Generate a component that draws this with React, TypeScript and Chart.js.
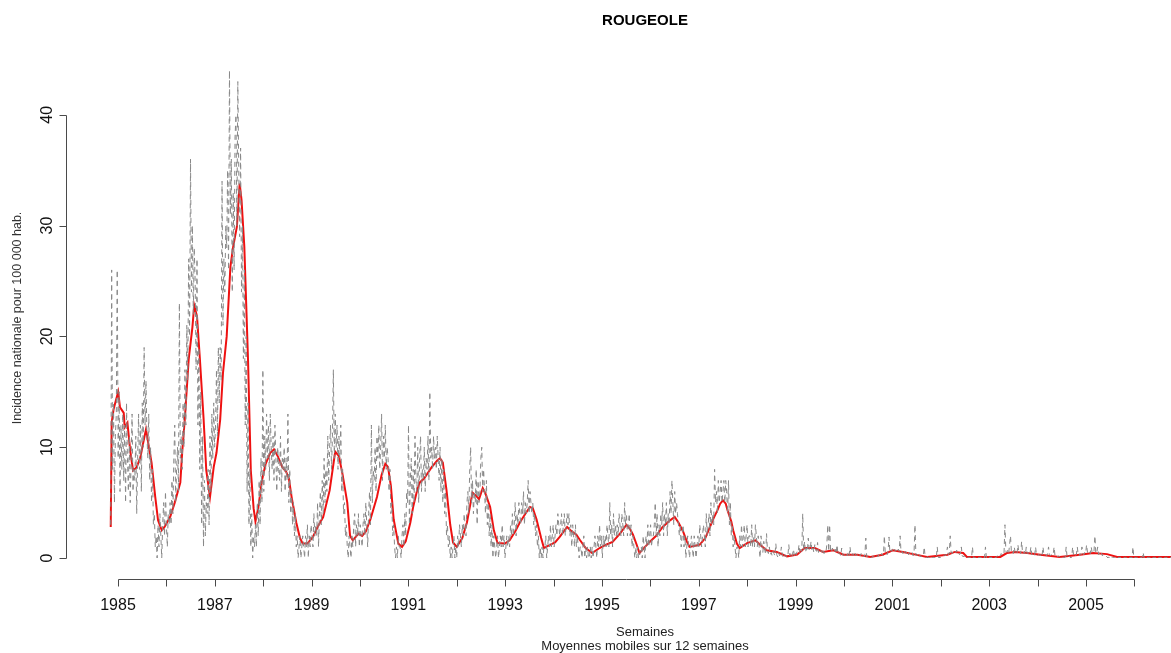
import React, { useEffect, useRef } from "react";
import { Chart, registerables } from "chart.js";

Chart.register(...registerables);

// ---------- text ----------
const TITLE = "ROUGEOLE";
const Y_TITLE = "Incidence nationale pour 100 000 hab.";
const X_TITLE = "Semaines";
const X_SUBTITLE = "Moyennes mobiles sur 12 semaines";

// ---------- time base ----------
const SERIES_START = 1984.85; // decimal year of first weekly observation
const WEEK = 7 / 365.25;

// ---------- axes ----------
const yearTicks = [1985, 1986, 1987, 1988, 1989, 1990, 1991, 1992, 1993, 1994, 1995, 1996, 1997, 1998, 1999, 2000, 2001, 2002, 2003, 2004, 2005, 2006];
const yearLabels = ["1985", "", "1987", "", "1989", "", "1991", "", "1993", "", "1995", "", "1997", "", "1999", "", "2001", "", "2003", "", "2005", ""];
const yTicks = [0, 10, 20, 30, 40];
const yTickLabels = ["0", "10", "20", "30", "40"];

// ---------- weekly incidence (grey dashed) ----------
const weeklyIncidence = [
  3, 26, 8, 14, 5, 11, 13, 26, 9, 15, 6, 12, 8,
  13, 7, 12, 5, 14, 9, 6, 11, 5, 9, 13, 6, 8,
  7, 11, 4, 9, 13, 8, 12, 6, 14, 10, 19, 12,
  16, 11, 9, 13, 7, 10, 5, 8, 3, 4, 1, 2, 0,
  3, 1, 4, 2, 0, 3, 5, 2, 6, 3, 1, 4, 3,
  5, 3, 7, 4, 9, 12, 5, 8, 10, 6, 23, 9, 11,
  8, 14, 10, 17, 12, 21, 16, 27, 20, 36, 24, 30, 22, 28,
  25, 17, 27, 12, 19, 8, 15, 3, 11, 1, 7, 2, 5,
  4, 8, 3, 11, 6, 13, 9, 14, 10, 12, 17, 11, 19,
  14, 19, 16, 34, 21, 27, 24, 30, 28, 35, 26, 44, 31,
  36, 24, 33, 26, 38, 40, 30, 43, 35, 29, 37, 24, 30,
  18, 26, 12, 20, 6, 14, 3, 8, 1, 4, 0, 2, 1,
  3, 1, 5, 2, 7, 3, 9, 5, 17, 6, 11, 8, 13,
  9, 12, 7, 13, 10, 8, 11, 7, 12, 9, 6, 10, 8,
  7, 11, 6, 9, 8, 10, 6, 9, 7, 13, 5, 8, 4,
  6, 3, 5, 2, 4, 1, 2, 0, 1, 2, 0, 1, 2,
  1, 0, 2, 1, 3, 0, 2, 1, 3, 2, 1, 4, 2,
  3, 2, 5, 1, 4, 6, 3, 7, 4, 9, 5, 8, 6,
  11, 7, 10, 12, 8, 11, 17, 9, 13, 10, 12, 8, 11,
  9, 12, 6, 8, 4, 5, 2, 3, 1, 0, 2, 1, 0,
  2, 1, 3, 4, 1, 3, 2, 4, 1, 3, 2, 1, 3,
  4, 2, 5, 3, 1, 4, 6, 3, 12, 5, 8, 7, 10,
  6, 11, 9, 12, 8, 10, 13, 7, 11, 9, 12, 8, 10,
  9, 6, 8, 4, 5, 2, 3, 1, 0, 1, 0, 2, 1,
  1, 0, 2, 3, 1, 4, 2, 6, 5, 12, 3, 7, 9,
  4, 8, 5, 11, 7, 6, 10, 5, 9, 11, 6, 8, 7,
  10, 6, 9, 8, 11, 7, 15, 9, 10, 8, 11, 9, 10,
  8, 11, 9, 7, 10, 6, 9, 5, 8, 4, 6, 2, 3,
  1, 2, 0, 1, 0, 1, 2, 0, 1, 0, 2, 1, 3,
  2, 1, 3, 2, 4, 3, 2, 5, 6, 4, 8, 10, 5,
  7, 4, 6, 5, 8, 3, 7, 5, 6, 9, 10, 6, 8,
  6, 4, 7, 3, 5, 2, 4, 1, 3, 0, 2, 1, 0,
  1, 2, 0, 1, 2, 1, 3, 1, 2, 0, 1, 2, 1,
  2, 1, 3, 2, 4, 2, 3, 5, 2, 4, 3, 5, 4,
  3, 5, 4, 6, 3, 5, 4, 5, 7, 4, 6, 5, 4,
  5, 3, 4, 2, 3, 1, 2, 0, 1, 0, 1, 0, 1,
  1, 2, 0, 1, 2, 1, 3, 1, 2, 3, 1, 2, 3,
  2, 4, 3, 2, 3, 4, 2, 3, 4, 2, 3, 4, 3,
  4, 2, 3, 1, 3, 2, 1, 3, 1, 2, 1, 0, 1,
  1, 0, 1, 2, 0, 1, 0, 1, 0, 0, 1, 0, 1,
  0, 1, 2, 1, 0, 2, 1, 3, 1, 2, 0, 2, 1,
  2, 1, 3, 2, 1, 5, 2, 3, 1, 4, 2, 3, 2,
  3, 2, 4, 3, 2, 4, 3, 2, 5, 3, 4, 2, 3,
  4, 2, 3, 1, 2, 1, 0, 1, 0, 1, 0, 0, 1,
  1, 0, 2, 1, 0, 2, 1, 3, 1, 2, 3, 1, 2,
  2, 3, 5, 2, 4, 1, 3, 2, 4, 3, 5, 2, 4,
  3, 5, 2, 4, 3, 6, 4, 7, 5, 3, 6, 4, 5,
  4, 3, 2, 3, 1, 2, 3, 1, 2, 0, 1, 2, 1,
  0, 1, 2, 1, 0, 2, 1, 0, 1, 2, 1, 3, 2,
  1, 2, 3, 2, 1, 4, 2, 3, 4, 2, 5, 3, 4,
  3, 8, 5, 6, 4, 7, 5, 6, 7, 5, 6, 7, 5,
  7, 6, 4, 7, 3, 5, 2, 3, 1, 2, 1, 0, 1,
  1, 0, 2, 1, 3, 1, 2, 3, 1, 2, 3, 1, 2,
  2, 1, 3, 1, 2, 1, 3, 2, 1, 2, 1, 0, 2,
  1.2, 0.5, 1.5, 0.8, 0.3, 2.2, 0.6, 0.4, 1, 0.3, 0.5, 0.2, 0.6,
  0.4, 0.2, 1.3, 0.3, 0.1, 0.5, 0.2, 0.3, 1.0, 0.2, 0.1, 0.4, 0.2,
  0.1, 0.3, 0.2, 1.2, 0.2, 0.4, 0.1, 0.3, 0.8, 0.2, 0.5, 0.3, 0.6,
  0.5, 1.2, 0.4, 0.8, 0.6, 4, 0.7, 1.5, 0.5, 0.9, 0.6, 1.8, 0.7,
  0.8, 1.5, 0.6, 0.9, 0.5, 1.2, 0.7, 0.6, 1.4, 0.5, 0.8, 0.6, 0.7,
  0.5, 0.8, 0.4, 0.6, 0.5, 1.2, 3, 0.6, 3, 0.7, 0.5, 0.9, 0.6,
  0.5, 0.8, 0.4, 1.2, 0.3, 0.5, 0.4, 0.2, 0.9, 0.3, 0.2, 0.4, 0.2,
  0.3, 0.2, 0.5, 0.2, 1.0, 0.2, 0.3, 0.4, 0.2, 0.5, 0.3, 0.2, 0.4,
  0.2, 0.3, 0.2, 0.4, 0.1, 0.2, 0.1, 0.3, 1.8, 0.1, 0.2, 0.1, 0.1,
  0.1, 0.0, 0.1, 0.2, 0.1, 0.0, 0.1, 0.2, 0.1, 0.3, 0.2, 0.1, 0.4,
  0.3, 0.2, 2, 0.4, 0.5, 0.3, 0.6, 1.9, 0.5, 0.7, 0.6, 0.9, 0.7,
  0.8, 0.6, 0.7, 0.5, 0.8, 0.6, 2, 0.5, 0.6, 0.4, 0.7, 0.5, 0.6,
  0.4, 0.6, 0.3, 0.5, 0.4, 0.3, 0.5, 0.2, 0.4, 3, 0.3, 0.2, 0.4,
  0.2, 0.3, 0.1, 0.2, 0.1, 0.2, 1.0, 0.1, 0.0, 0.1, 0.1, 0.0, 0.1,
  0.0, 0.1, 0.0, 0.1, 0.0, 0.1, 0.0, 1.0, 0.1, 0.0, 0.1, 0.0, 0.1,
  0.1, 0.2, 0.3, 0.2, 0.4, 1.0, 0.3, 0.4, 2, 0.5, 0.4, 0.6, 0.5,
  0.6, 0.5, 0.7, 0.4, 0.5, 0.3, 0.4, 1.0, 0.2, 0.1, 0.2, 0.1, 0.0,
  0.1, 0.0, 0.1, 0.0, 0.1, 0.0, 1.0, 0.0, 0.1, 0.0, 0.1, 0.0, 0.1,
  0.0, 0.1, 0.0, 0.1, 0.0, 0.1, 0.0, 1.0, 0.0, 0.1, 0.0, 0.1, 0.0,
  0.1, 0.0, 0.1, 0.0, 0.1, 0.0, 0.1, 0.2, 0.1, 0.3, 0.2, 0.4, 0.3,
  0.5, 0.4, 3, 0.6, 0.5, 0.7, 0.4, 1.2, 2, 0.5, 0.6, 0.4, 1.0,
  0.5, 0.6, 0.4, 1.2, 0.5, 0.6, 0.4, 1.5, 0.5, 0.4, 0.6, 0.3, 1.0,
  0.4, 0.5, 0.3, 0.4, 1.0, 0.3, 0.4, 0.3, 0.2, 1.0, 0.3, 0.2, 0.3,
  0.3, 0.2, 0.4, 0.2, 1.0, 0.3, 0.2, 0.3, 0.2, 0.4, 1.0, 0.3, 0.2,
  0.3, 0.2, 0.3, 1.0, 0.2, 0.1, 0.2, 0.1, 0.2, 0.1, 0.0, 0.1, 0.0,
  0.1, 0.0, 0.1, 1.0, 0.1, 0.0, 0.2, 0.1, 0.0, 0.1, 1.0, 0.2, 0.1,
  0.2, 0.3, 1.0, 0.3, 0.2, 0.4, 0.3, 1.0, 0.4, 0.3, 0.5, 0.4, 1.2,
  0.5, 0.4, 0.6, 0.4, 1.0, 0.5, 0.4, 0.6, 2, 0.4, 0.5, 1.0, 0.3,
  0.4, 0.3, 0.5, 0.2, 0.3, 0.2, 0.1, 0.2, 0.1, 0.0, 0.1, 0.0, 0.1,
  0.0, 0.1, 0.0, 0.1, 0.0, 0.1, 0.0, 0.1, 0.0, 0.1, 0.0, 0.1, 0.0,
  0.1, 0.0, 0.1, 0.0, 0.1, 0.0, 0.1, 0.0, 0.1, 0.0, 1.0, 0.0, 0.1,
  0.0, 0.1, 0.0, 0.1, 0.0, 0.1, 0.0, 0.1, 0.5, 0.0, 0.1, 0.0, 0.1,
  0.0, 0.1, 0.0, 0.1, 0.0, 0.1, 0.0, 0.1, 0.0, 0.1, 0.0, 0.1, 0.0,
  0.1, 0.0, 0.1, 0.0, 0.1, 0.0, 0.1, 0.0, 0.1, 0.0, 0.1, 0.0, 0.1,
  0.0, 0.1, 0.0, 0.1, 0.0, 0.1, 0.0,
];

// ---------- 12-week moving average (red), read at week positions ----------
const movingAvgWeeks = [
  0, 1, 3, 8, 10, 14, 15, 18, 21, 24,
  28, 32, 35, 38, 40, 44, 48, 51, 55, 58,
  64, 69, 75, 77, 80, 84, 88, 90, 93, 96,
  100, 103, 107, 111, 114, 118, 121, 125, 129, 132,
  136, 139, 141, 144, 148, 151, 154, 156, 159, 163,
  167, 172, 176, 180, 185, 189, 192, 195, 200, 204,
  207, 212, 218, 223, 229, 236, 242, 246, 250, 255,
  258, 261, 267, 271, 275, 280, 287, 292, 296, 299,
  302, 305, 310, 314, 318, 323, 326, 330, 333, 338,
  342, 346, 352, 355, 358, 362, 366, 369, 373, 379,
  384, 390, 394, 397, 401, 404, 409, 413, 417, 425,
  430, 436, 441, 447, 452, 455, 459, 464, 467, 474,
  479, 484, 492, 497, 502, 506, 512, 519, 527, 534,
  541, 549, 556, 560, 563, 567, 570, 576, 581, 588,
  595, 603, 608, 612, 617, 621, 624, 630, 635, 641,
  646, 650, 654, 657, 660, 663, 665, 669, 671, 675,
  678, 686, 695, 700, 707, 718, 729, 740, 748, 759,
  768, 779, 790, 805, 819, 832, 843, 854, 865, 880,
  902, 910, 919, 923, 959, 966, 975, 988, 1002, 1023,
  1045, 1059, 1074, 1085, 1150,
];
const movingAvgValues = [
  2.8, 12.2, 13.4, 15.0, 13.6, 13.1, 11.8, 12.2, 9.7, 7.9,
  8.2, 9.1, 10.4, 11.6, 10.6, 8.6, 5.5, 3.4, 2.5, 2.8,
  3.7, 5.0, 6.8, 9.5, 12.7, 17.9, 20.8, 22.8, 21.8, 18.1,
  12.7, 7.9, 5.5, 8.2, 9.5, 12.5, 16.7, 20.0, 26.3, 28.1,
  29.9, 33.8, 32.3, 28.1, 17.9, 7.9, 4.5, 3.3, 4.5, 7.0,
  8.5, 9.5, 9.8, 9.2, 8.2, 7.8, 7.2, 5.5, 3.2, 1.8,
  1.3, 1.3, 1.9, 2.8, 3.7, 6.1, 9.6, 9.2, 7.5, 5.0,
  2.0, 1.6, 2.2, 2.0, 2.4, 3.5, 5.5, 7.5, 8.5, 8.2,
  6.5, 3.5, 1.3, 1.0, 1.5, 3.2, 4.6, 6.0, 6.8, 7.2,
  7.7, 8.2, 8.8, 9.0, 8.6, 6.1, 3.0, 1.4, 1.0, 1.8,
  3.2, 5.9, 5.6, 5.3, 6.3, 5.8, 4.6, 2.5, 1.35, 1.3,
  1.6, 2.4, 3.2, 4.0, 4.6, 4.5, 3.5, 1.8, 0.9, 1.2,
  1.4, 1.9, 2.8, 2.4, 2.1, 1.6, 0.9, 0.45, 0.9, 1.2,
  1.45, 2.2, 3.0, 2.6, 2.1, 1.2, 0.45, 1.0, 1.45, 2.0,
  2.8, 3.4, 3.7, 3.2, 2.4, 1.5, 1.0, 1.1, 1.2, 1.8,
  2.8, 3.6, 4.3, 4.9, 5.2, 4.9, 4.3, 3.3, 2.5, 1.3,
  0.9, 1.35, 1.6, 1.2, 0.7, 0.55, 0.15, 0.3, 0.9, 0.9,
  0.55, 0.7, 0.3, 0.3, 0.1, 0.3, 0.7, 0.55, 0.35, 0.1,
  0.3, 0.55, 0.45, 0.1, 0.1, 0.45, 0.55, 0.45, 0.3, 0.1,
  0.3, 0.45, 0.35, 0.1, 0.1,
];

// ---------- layout constants ----------
const W = 1171;
const H = 653;
const TEXT_CENTER_X = 645;
const X_MIN = 1983.9256;
const X_MAX = 2006.756;
const Y_MIN = -1.895;
const Y_MAX = 45.76;

const FONT = '"Liberation Sans", Arial, Helvetica, sans-serif';

const rAxesPlugin = {
  id: "rStyleAxes",
  afterDraw(chart: any) {
    const { ctx, chartArea } = chart;
    const xs = chart.scales.x;
    const ys = chart.scales.y;
    ctx.save();

    // x axis
    const axisY = Math.round(chartArea.bottom) + 0.5;
    ctx.strokeStyle = "#4a4a4a";
    ctx.lineWidth = 1;
    ctx.beginPath();
    const xa = Math.round(xs.getPixelForValue(yearTicks[0])) + 0.5;
    const xb = Math.round(xs.getPixelForValue(yearTicks[yearTicks.length - 1])) + 0.5;
    ctx.moveTo(xa, axisY);
    ctx.lineTo(xb, axisY);
    yearTicks.forEach((t) => {
      const px = Math.round(xs.getPixelForValue(t)) + 0.5;
      ctx.moveTo(px, axisY);
      ctx.lineTo(px, axisY + 7);
    });
    ctx.stroke();

    ctx.fillStyle = "#111";
    ctx.font = `16px ${FONT}`;
    ctx.textAlign = "center";
    ctx.textBaseline = "middle";
    yearTicks.forEach((t, k) => {
      if (yearLabels[k]) ctx.fillText(yearLabels[k], xs.getPixelForValue(t), axisY + 26);
    });

    // y axis
    const axisX = Math.round(chartArea.left) + 0.5;
    ctx.beginPath();
    const ya = Math.round(ys.getPixelForValue(yTicks[0])) + 0.5;
    const yb = Math.round(ys.getPixelForValue(yTicks[yTicks.length - 1])) + 0.5;
    ctx.moveTo(axisX, ya);
    ctx.lineTo(axisX, yb);
    yTicks.forEach((t) => {
      const py = Math.round(ys.getPixelForValue(t)) + 0.5;
      ctx.moveTo(axisX, py);
      ctx.lineTo(axisX - 7, py);
    });
    ctx.stroke();

    yTicks.forEach((t, k) => {
      const py = ys.getPixelForValue(t);
      ctx.save();
      ctx.translate(axisX - 19, py);
      ctx.rotate(-Math.PI / 2);
      ctx.fillText(yTickLabels[k], 0, 0);
      ctx.restore();
    });

    // titles
    ctx.fillStyle = "#000";
    ctx.font = `bold 15px ${FONT}`;
    ctx.fillText(TITLE, TEXT_CENTER_X, 21);

    ctx.fillStyle = "#333";
    ctx.font = `12.5px ${FONT}`;
    ctx.save();
    ctx.translate(18, 318);
    ctx.rotate(-Math.PI / 2);
    ctx.fillText(Y_TITLE, 0, 0);
    ctx.restore();

    ctx.fillStyle = "#222";
    ctx.font = `13px ${FONT}`;
    ctx.fillText(X_TITLE, TEXT_CENTER_X, 632);
    ctx.fillText(X_SUBTITLE, TEXT_CENTER_X, 646);

    ctx.restore();
  },
};

export default function App() {
  const canvasRef = useRef<HTMLCanvasElement | null>(null);

  useEffect(() => {
    const canvas = canvasRef.current;
    if (!canvas) return;

    const weeklyPoints = weeklyIncidence.map((v, i) => ({ x: SERIES_START + i * WEEK, y: v }));
    const avgPoints = movingAvgWeeks.map((w, k) => ({ x: SERIES_START + w * WEEK, y: movingAvgValues[k] }));

    const chart = new Chart(canvas, {
      type: "line",
      data: {
        datasets: [
          {
            label: "Incidence hebdomadaire",
            data: weeklyPoints,
            borderColor: "#888888",
            borderWidth: 1,
            borderDash: [5, 4],
            pointRadius: 0,
            tension: 0,
            fill: false,
          },
          {
            label: "Moyenne mobile 12 semaines",
            data: avgPoints,
            borderColor: "#ee1111",
            borderWidth: 2,
            pointRadius: 0,
            tension: 0,
            fill: false,
          },
        ],
      },
      options: {
        animation: false,
        responsive: false,
        devicePixelRatio: 1,
        events: [],
        layout: { padding: { left: 66, right: 0, top: 51, bottom: 74 } },
        plugins: {
          legend: { display: false },
          tooltip: { enabled: false },
          title: { display: false },
        },
        scales: {
          x: { type: "linear", min: X_MIN, max: X_MAX, display: false },
          y: { type: "linear", min: Y_MIN, max: Y_MAX, display: false },
        },
      },
      plugins: [rAxesPlugin],
    });

    return () => chart.destroy();
  }, []);

  return (
    <div style={{ position: "absolute", left: 0, top: 0, width: W, height: H, background: "#fff" }}>
      <canvas ref={canvasRef} width={W} height={H} style={{ display: "block", width: W, height: H }} />
    </div>
  );
}
